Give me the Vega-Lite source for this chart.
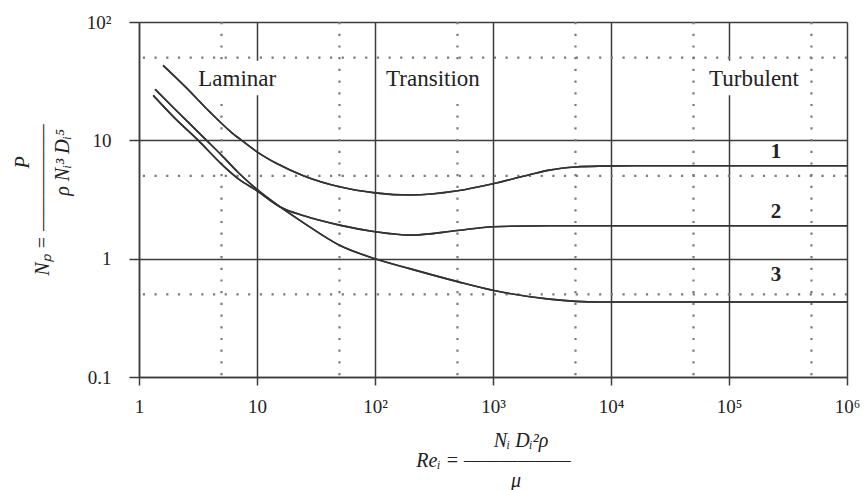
{
  "$schema": "https://vega.github.io/schema/vega-lite/v6.json",
  "width": 708,
  "height": 355,
  "autosize": {"type": "none"},
  "padding": {"left": 139, "top": 22, "right": 20, "bottom": 113},
  "background": "white",
  "config": {
    "view": {"stroke": null},
    "font": "Liberation Serif"
  },
  "datasets": {
    "curves": [
      {"re": 1.6, "np": 43, "c": "1"},
      {"re": 2.5, "np": 28, "c": "1"},
      {"re": 4, "np": 17.3, "c": "1"},
      {"re": 6, "np": 11.8, "c": "1"},
      {"re": 7.4, "np": 10, "c": "1"},
      {"re": 10, "np": 8.0, "c": "1"},
      {"re": 15, "np": 6.3, "c": "1"},
      {"re": 25, "np": 5.0, "c": "1"},
      {"re": 50, "np": 4.05, "c": "1"},
      {"re": 100, "np": 3.6, "c": "1"},
      {"re": 200, "np": 3.45, "c": "1"},
      {"re": 500, "np": 3.75, "c": "1"},
      {"re": 1000, "np": 4.3, "c": "1"},
      {"re": 2000, "np": 5.1, "c": "1"},
      {"re": 3000, "np": 5.6, "c": "1"},
      {"re": 5000, "np": 5.95, "c": "1"},
      {"re": 8000, "np": 6.05, "c": "1"},
      {"re": 20000, "np": 6.1, "c": "1"},
      {"re": 1000000, "np": 6.1, "c": "1"},
      {"re": 1.32, "np": 24, "c": "2"},
      {"re": 2, "np": 15.5, "c": "2"},
      {"re": 3.18, "np": 10, "c": "2"},
      {"re": 5, "np": 6.3, "c": "2"},
      {"re": 7, "np": 4.7, "c": "2"},
      {"re": 10, "np": 3.75, "c": "2"},
      {"re": 15.6, "np": 2.75, "c": "2"},
      {"re": 25, "np": 2.3, "c": "2"},
      {"re": 50, "np": 1.92, "c": "2"},
      {"re": 100, "np": 1.69, "c": "2"},
      {"re": 200, "np": 1.58, "c": "2"},
      {"re": 500, "np": 1.73, "c": "2"},
      {"re": 1000, "np": 1.86, "c": "2"},
      {"re": 3000, "np": 1.9, "c": "2"},
      {"re": 1000000, "np": 1.9, "c": "2"},
      {"re": 1.37, "np": 27, "c": "3"},
      {"re": 2, "np": 18.5, "c": "3"},
      {"re": 3.74, "np": 10, "c": "3"},
      {"re": 5, "np": 7.5, "c": "3"},
      {"re": 7, "np": 5.3, "c": "3"},
      {"re": 10, "np": 3.85, "c": "3"},
      {"re": 15.6, "np": 2.75, "c": "3"},
      {"re": 25, "np": 2.0, "c": "3"},
      {"re": 50, "np": 1.3, "c": "3"},
      {"re": 100, "np": 1.0, "c": "3"},
      {"re": 200, "np": 0.82, "c": "3"},
      {"re": 500, "np": 0.64, "c": "3"},
      {"re": 1000, "np": 0.54, "c": "3"},
      {"re": 3000, "np": 0.455, "c": "3"},
      {"re": 8000, "np": 0.43, "c": "3"},
      {"re": 1000000, "np": 0.43, "c": "3"}
    ],
    "vdots": [{"re": 5}, {"re": 50}, {"re": 500}, {"re": 5000}, {"re": 50000}, {"re": 500000}],
    "hdots": [{"np": 0.5}, {"np": 5}, {"np": 50}],
    "boxes": [
      {"re": 2.9, "re2": 15.5, "np": 47, "np2": 24},
      {"re": 106, "re2": 855, "np": 47, "np2": 24},
      {"re": 60200, "re2": 424000, "np": 47, "np2": 24}
    ],
    "regions": [
      {"re": 6.8, "np": 33, "t": "Laminar"},
      {"re": 310, "np": 33, "t": "Transition"},
      {"re": 163000, "np": 33, "t": "Turbulent"}
    ],
    "nums": [
      {"re": 250000, "np": 8.0, "t": "1"},
      {"re": 250000, "np": 2.49, "t": "2"},
      {"re": 250000, "np": 0.726, "t": "3"}
    ]
  },
  "layer": [
    {
      "data": {"name": "curves"},
      "mark": {"type": "line", "interpolate": "monotone", "color": "#333333", "strokeWidth": 1.6},
      "encoding": {
        "x": {
          "field": "re", "type": "quantitative",
          "scale": {"type": "log", "domain": [1, 1000000], "nice": false},
          "axis": {
            "values": [1, 10, 100, 1000, 10000, 100000, 1000000],
            "labelExpr": "datum.value < 5 ? '1' : datum.value < 50 ? '10' : datum.value < 500 ? '10²' : datum.value < 5000 ? '10³' : datum.value < 50000 ? '10⁴' : datum.value < 500000 ? '10⁵' : '10⁶'",
            "grid": true, "gridColor": "#3c3c3c", "gridWidth": 1.5, "gridOpacity": 1,
            "domain": true, "domainColor": "#3c3c3c", "domainWidth": 1.5,
            "ticks": true, "tickColor": "#3c3c3c", "tickWidth": 1.5, "tickSize": 8,
            "labelFont": "Liberation Serif", "labelFontSize": 19, "labelColor": "#222222", "labelPadding": 12,
            "labelFlush": false, "labelOverlap": false,
            "title": ["\u2800\u2800\u2800\u00a0\u00a0Nᵢ Dᵢ²ρ", "Reᵢ =  ——————", "\u2800\u2800\u2800μ"],
            "titleFont": "Liberation Serif", "titleFontSize": 20, "titleFontStyle": "italic", "titleFontWeight": "normal",
            "titleColor": "#222222", "titleLineHeight": 20, "titlePadding": 14
          }
        },
        "y": {
          "field": "np", "type": "quantitative",
          "scale": {"type": "log", "domain": [0.1, 100], "nice": false},
          "axis": {
            "values": [0.1, 1, 10, 100],
            "labelExpr": "datum.value >= 50 ? '10²' : datum.value >= 5 ? '10' : datum.value >= 0.5 ? '1' : '0.1'",
            "grid": true, "gridColor": "#3c3c3c", "gridWidth": 1.5, "gridOpacity": 1,
            "domain": true, "domainColor": "#3c3c3c", "domainWidth": 1.5,
            "ticks": true, "tickColor": "#3c3c3c", "tickWidth": 1.5, "tickSize": 10,
            "labelFont": "Liberation Serif", "labelFontSize": 19, "labelColor": "#222222", "labelPadding": 18,
            "labelFlush": false, "labelOverlap": false,
            "title": ["\u2800\u2800\u2800\u2800\u2800P", "Nₚ =  ——————", "\u2800\u2800\u2800\u2800\u2800ρ  Nᵢ³  Dᵢ⁵"],
            "titleFont": "Liberation Serif", "titleFontSize": 20, "titleFontStyle": "italic", "titleFontWeight": "normal",
            "titleColor": "#222222", "titleLineHeight": 20, "titlePadding": 14
          }
        },
        "detail": {"field": "c", "type": "nominal"}
      }
    },
    {
      "data": {"name": "vdots"},
      "mark": {"type": "rule", "color": "#7a7a7a", "strokeWidth": 2.2, "strokeDash": [2.2, 9.5]},
      "encoding": {
        "x": {"field": "re", "type": "quantitative"}
      }
    },
    {
      "data": {"name": "hdots"},
      "mark": {"type": "rule", "color": "#7a7a7a", "strokeWidth": 2.2, "strokeDash": [2.2, 9.5]},
      "encoding": {
        "y": {"field": "np", "type": "quantitative"}
      }
    },
    {
      "data": {"name": "boxes"},
      "mark": {"type": "rect", "fill": "white", "stroke": null},
      "encoding": {
        "x": {"field": "re", "type": "quantitative"},
        "x2": {"field": "re2"},
        "y": {"field": "np", "type": "quantitative"},
        "y2": {"field": "np2"}
      }
    },
    {
      "data": {"name": "curves"},
      "mark": {"type": "line", "interpolate": "monotone", "color": "#333333", "strokeWidth": 1.6},
      "encoding": {
        "x": {"field": "re", "type": "quantitative"},
        "y": {"field": "np", "type": "quantitative"},
        "detail": {"field": "c", "type": "nominal"}
      }
    },
    {
      "data": {"name": "regions"},
      "mark": {"type": "text", "font": "Liberation Serif", "fontSize": 23, "color": "#222222", "align": "center", "baseline": "middle"},
      "encoding": {
        "x": {"field": "re", "type": "quantitative"},
        "y": {"field": "np", "type": "quantitative"},
        "text": {"field": "t"}
      }
    },
    {
      "data": {"name": "nums"},
      "mark": {"type": "text", "font": "Liberation Serif", "fontSize": 21, "fontWeight": "bold", "color": "#222222", "align": "center", "baseline": "middle"},
      "encoding": {
        "x": {"field": "re", "type": "quantitative"},
        "y": {"field": "np", "type": "quantitative"},
        "text": {"field": "t"}
      }
    }
  ]
}
